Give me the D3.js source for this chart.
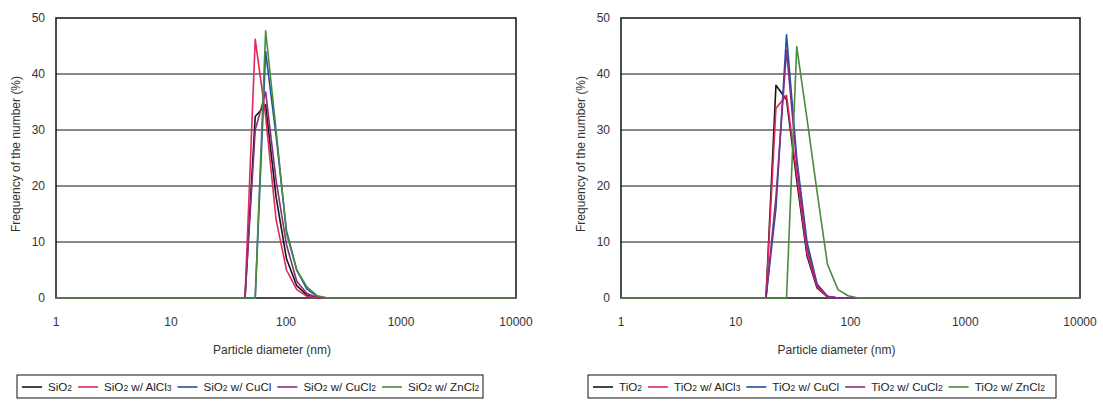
<!DOCTYPE html>
<html lang="en">
<meta charset="utf-8">
<style>
body {
  margin: 0;
  background: #fff;
  font-family: 'Liberation Sans', Arial, sans-serif;
}
.grid line {
  stroke: #111;
  stroke-width: 1;
}
.frame {
  fill: none;
  stroke: #111;
  stroke-width: 1.5;
}
.tick-label {
  font-size: 12px;
  fill: #333;
}
.legend-label {
  font-size: 11.6px;
  fill: #222;
}
.series {
  fill: none;
  stroke-width: 1.6;
  stroke-linejoin: round;
}
</style>
<body>
<div id="chart"></div>

<script src="https://d3js.org/d3.v7.min.js"></script>
<script>

var width = 1103,
    height = 401;

// x tick labels and y ticks shared by both panels
var xTicks = [1, 10, 100, 1000, 10000];
var yTicks = [0, 10, 20, 30, 40, 50];

// series colours, same order in both panels
var colors = ["#151515", "#e0285c", "#1d4fa6", "#8a2d82", "#4b8b3d"];

// left panel: SiO2 (diameter in nm, frequency in %)
var sioDiam = [1, 44, 54, 66.5, 82, 101, 124, 152, 187, 230, 10000];
var sioNames = ["SiO2", "SiO2 w/ AlCl3", "SiO2 w/ CuCl", "SiO2 w/ CuCl2", "SiO2 w/ ZnCl2"];
var sioPlain  = [0, 0, 32.4, 34.5, 18,  7,    2.2, 0.5, 0,   0, 0];
var sioAlCl3  = [0, 0, 46.2, 32.5, 14,  5,    1.5, 0.3, 0,   0, 0];
var sioCuCl   = [0, 0, 0,    44,   29,  12,   5,   1.6, 0.3, 0, 0];
var sioCuCl2  = [0, 0, 30,   36.8, 21,  9.5,  3,   0.8, 0.1, 0, 0];
var sioZnCl2  = [0, 0, 0,    47.7, 30,  11.5, 5,   2,   0.4, 0, 0];

// right panel: TiO2
var tioDiam = [1, 18.35, 22.4, 27.7, 34, 41.8, 51.1, 63, 77.8, 95.1, 117.4, 10000];
var tioNames = ["TiO2", "TiO2 w/ AlCl3", "TiO2 w/ CuCl", "TiO2 w/ CuCl2", "TiO2 w/ ZnCl2"];
var tioPlain  = [0, 0, 38,   35.4, 21,   7.5, 1.8, 0.2, 0,   0,   0, 0];
var tioAlCl3  = [0, 0, 33.9, 36.2, 22,   8,   2,   0.2, 0,   0,   0, 0];
var tioCuCl   = [0, 0, 16,   47,   25,   10,  2.5, 0.3, 0,   0,   0, 0];
var tioCuCl2  = [0, 0, 18,   44.3, 24,   9,   2.3, 0.3, 0,   0,   0, 0];
var tioZnCl2  = [0, 0, 0,    0,    44.9, 32,  19,  6,   1.5, 0.4, 0, 0];

var svg = d3.select("#chart").append("svg")
    .attr("width", width)
    .attr("height", height);

svg.append("rect").attr("width", width).attr("height", height).attr("fill", "#fff");

function drawPanel(p) {
  var x = d3.scaleLog().domain([1, 10000]).range([p.x0, p.x1]);
  var y = d3.scaleLinear().domain([0, 50]).range([298, 18]);

  var g = svg.append("g");

  // horizontal gridlines
  g.append("g").attr("class", "grid")
    .selectAll("line")
    .data(yTicks.filter(function(d) { return d > 0 && d < 50; }))
    .enter().append("line")
      .attr("x1", p.x0).attr("x2", p.x1)
      .attr("y1", function(d) { return y(d); })
      .attr("y2", function(d) { return y(d); });

  g.append("rect").attr("class", "frame")
    .attr("x", p.x0).attr("y", y(50))
    .attr("width", p.x1 - p.x0).attr("height", y(0) - y(50));

  // y tick labels
  g.selectAll(".ylab")
    .data(yTicks)
    .enter().append("text")
      .attr("class", "tick-label")
      .attr("x", p.x0 - 11)
      .attr("y", function(d) { return y(d) + 4; })
      .attr("text-anchor", "end")
      .text(function(d) { return d; });

  // x tick labels
  g.selectAll(".xlab")
    .data(xTicks)
    .enter().append("text")
      .attr("class", "tick-label")
      .attr("x", function(d) { return x(d); })
      .attr("y", 326)
      .attr("text-anchor", "middle")
      .text(function(d) { return d; });

  g.append("text")
    .attr("class", "tick-label")
    .attr("transform", "translate(" + (p.x0 - 36) + ",154) rotate(-90)")
    .attr("text-anchor", "middle")
    .text("Frequency of the number (%)");

  g.append("text")
    .attr("class", "tick-label")
    .attr("x", (p.x0 + p.x1) / 2 - 14)
    .attr("y", 354)
    .attr("text-anchor", "middle")
    .text("Particle diameter (nm)");

  var line = d3.line()
    .x(function(d) { return x(d[0]); })
    .y(function(d) { return y(d[1]); });

  p.series.forEach(function(s, i) {
    g.append("path")
      .datum(p.diam.map(function(d, j) { return [d, s[j]]; }))
      .attr("class", "series")
      .attr("stroke", colors[i])
      .attr("d", line);
  });

  // legend
  var lg = g.append("g");
  lg.append("rect")
    .attr("x", p.lx).attr("y", 375)
    .attr("width", p.lw).attr("height", 23)
    .attr("fill", "#fff").attr("stroke", "#111").attr("stroke-width", 1);

  var cx = p.lx + 5;
  p.names.forEach(function(name, i) {
    lg.append("line")
      .attr("x1", cx).attr("x2", cx + 20)
      .attr("y1", 387).attr("y2", 387)
      .attr("stroke", colors[i]).attr("stroke-width", 1.6);
    var t = lg.append("text")
      .attr("class", "legend-label")
      .attr("x", cx + 26)
      .attr("y", 391);
    // digits after a letter become small subscripts
    name.split(/(\d)/).forEach(function(part) {
      if (part === "") return;
      if (/\d/.test(part)) {
        t.append("tspan").attr("font-size", "8.5px").text(part);
      } else {
        t.append("tspan").text(part);
      }
    });
    cx += 26 + t.node().getComputedTextLength() + 6;
  });
}

drawPanel({
  x0: 56, x1: 516, lx: 17, lw: 466,
  diam: sioDiam, names: sioNames,
  series: [sioPlain, sioAlCl3, sioCuCl, sioCuCl2, sioZnCl2]
});

drawPanel({
  x0: 621, x1: 1080, lx: 588, lw: 468,
  diam: tioDiam, names: tioNames,
  series: [tioPlain, tioAlCl3, tioCuCl, tioCuCl2, tioZnCl2]
});

</script>
</body>
</html>
